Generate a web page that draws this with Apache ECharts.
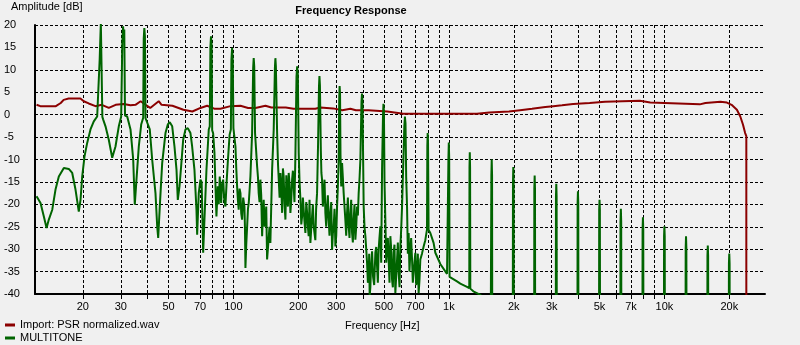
<!DOCTYPE html>
<html>
<head>
<meta charset="utf-8">
<script src="https://cdn.jsdelivr.net/npm/echarts@6/dist/echarts.min.js"></script>
<style>
html,body{margin:0;padding:0;background:#f0f0f0;}
#chart{width:800px;height:345px;}
</style>
</head>
<body>
<div id="chart"></div>
<script>
// Tick values
var xGridTicks = [20,30,40,50,60,70,80,90,100,200,300,400,500,600,700,800,900,1000,2000,3000,4000,5000,6000,7000,8000,9000,10000,20000];
var xLabelTicks = [20,30,50,70,100,200,300,500,700,1000,2000,3000,5000,7000,10000,20000];

// Import: PSR normalized.wav  [Hz, dB]
var psrResponse = [[12.2,2.2],[12.7,1.9],[15.0,1.9],[15.8,2.6],[16.3,3.3],[17.2,3.6],[19.5,3.6],[20.2,3.0],[21.3,2.5],[22.9,1.9],[24.5,2.2],[26.4,1.5],[28.4,2.2],[30.9,2.4],[33.3,2.1],[35.1,2.2],[37.1,3.0],[39.1,2.2],[41.1,1.5],[45.0,3.0],[46.4,2.2],[52.1,2.0],[58.6,1.1],[64.5,0.7],[70.3,1.5],[75.5,2.0],[82,1.3],[87,1.3],[96.9,1.9],[107.8,2.0],[117,1.5],[126.5,1.5],[140.8,2.0],[150,1.6],[175,1.6],[190,1.3],[240,1.3],[253,1.6],[290,1.4],[320,1.0],[349,1.3],[370,1.0],[423,1.0],[518,0.7],[614,0.2],[820,0.2],[1350,0.2],[1360,0.5],[1540,0.5],[1550,0.7],[1900,0.7],[1910,1.0],[2140,1.0],[2150,1.3],[2430,1.3],[2450,1.7],[2800,1.7],[2810,1.9],[3050,1.9],[3100,2.1],[3350,2.1],[3400,2.4],[3770,2.4],[3800,2.6],[4500,2.6],[4550,2.9],[5300,2.9],[5350,3.1],[7700,3.1],[7800,2.7],[8600,2.7],[8700,2.3],[14600,2.3],[14700,2.6],[15500,2.6],[15600,2.9],[18200,2.9],[18400,2.7],[19500,2.7],[20500,2.2],[21700,1.1],[22500,-0.4],[23150,-2.2],[23700,-4.1],[24000,-4.8],[24000,-41]];

// MULTITONE  [Hz, dB]
var multitoneLow = [[12.2,-18.2],[12.73,-19.7],[13.19,-22.7],[13.58,-25.3],[13.91,-23.4],[14.43,-21.2],[14.94,-16.7],[15.48,-13.8],[16.33,-11.9],[17.22,-12.1],[17.86,-13.0],[18.5,-16.7],[19.16,-21.6],[19.52,-19.0],[19.87,-13.8],[20.37,-9.3],[20.96,-6.3],[21.71,-3.3],[22.49,-1.5],[23.32,-0.4],[23.8,0],[23.95,12.3],[24.15,12.3],[24.25,20.5],[24.5,20.5],[24.65,-0.5],[24.87,-1.1],[25.49,-2.6],[26.4,-5.6],[27.38,-9.6],[28.36,-7.1],[29.38,-2.6],[30.14,-0.4],[30.5,16],[30.75,19.7],[30.95,17.5],[31.15,19],[31.4,-0.2],[32.14,-0.4],[33.3,-3.3],[34.27,-10],[34.85,-20.1],[35.49,-14.5],[36.38,-7.1],[37.32,-2.2],[38.13,-0.7],[38.35,17],[38.6,19.3],[38.85,17.5],[39.1,-0.8],[39.79,-1.1],[40.91,-3.3],[41.97,-10],[43.48,-17.5],[44.28,-24.9],[44.76,-27.5],[45.53,-20.5],[46.71,-10.8],[48.39,-4.1],[49.59,-2.2],[50.66,-1.7],[51.99,-2.6],[53.27,-7.1],[54.43,-12.3],[55.19,-19.0],[56.2,-16.0],[57.2,-11.5],[58.45,-5.6],[59.9,-3.3],[61.4,-3.0],[63.18,-4.1],[64.33,-7.1],[65.94,-12.3],[67.37,-21.2],[67.87,-26.8],[69.05,-17.5],[70.3,-14.5],[71.2,-15],[72.37,-30.8],[73.38,-23.4],[74.97,-12.3],[76.84,-3.3],[77.66,-2.6],[78.2,15],[78.7,17.5],[79.2,15.5],[79.7,-3.5],[80.5,-4.1],[81.65,-8.5],[83.4,-22.7],[84.6,-16.0],[85.5,-20],[86.4,-13.8],[87.7,-19.7],[88.6,-15.5],[89.6,-14.5],[90.7,-19],[91.8,-20.5],[93.0,-15],[94.1,-10.8],[96.0,-4.5],[97.3,-3.3],[97.9,12.3],[98.6,14.9],[99.3,12],[100,-3]];

var multitoneMid = [[102.2,-7.1],[103.1,-12],[104.0,-16.0],[104.9,-19],[105.8,-21.2],[106.8,-16.5],[107.8,-17.5],[108.7,-22],[109.7,-23.4],[111.0,-18.5],[112.5,-20.5],[113.1,-25],[113.7,-34.2],[114.7,-29],[115.8,-24.9],[116.8,-21],[117.8,-19.7],[118.8,-17],[119.9,-13.8],[122.1,-4.1],[123.5,10.5],[124.2,12.6],[124.9,10.8],[126.0,-4.1],[128.8,-11.5],[130.0,-14],[131.0,-17.5],[132.2,-19.5],[133.4,-14.5],[134.6,-18],[135.9,-27.1],[137.0,-22],[138.2,-19.0],[139.5,-25],[140.8,-23.4],[142.0,-20.5],[143.3,-32.3],[144.5,-30],[145.8,-27.5],[147.0,-25],[148.4,-28.6],[151.2,-12.3],[153.8,-3.3],[155.8,10.5],[156.6,12.6],[157.4,10.8],[159.5,-4.1],[161.0,-11],[162.3,-14.5],[163.8,-18.5],[165.2,-13.0],[166.7,-16],[168.3,-21.9],[169.7,-12],[171.1,-13.8],[172.7,-20],[174.3,-23.4],[176.0,-13.5],[177.5,-17.5],[179.0,-20.5],[180.5,-13.0],[182.2,-15.5],[183.8,-21.9],[185.5,-19],[187.2,-14.5],[188.8,-12.5],[190.4,-16.0],[192.0,-19.5],[193.9,-9.3],[196.2,8.5],[197.6,10.8],[199.0,9.0],[200.9,-8.5],[202.7,-15],[204.6,-19.0],[206.5,-24.5],[208.3,-22.7],[210.0,-18.5],[211.9,-21.2],[213.8,-24],[215.8,-26.4],[217.8,-19.5],[219.8,-21.9],[221.6,-25],[223.5,-27.1],[225.5,-19],[227.6,-28.6],[229.6,-25.5],[231.7,-22.7],[233.7,-20],[235.7,-24.9],[240.0,-28],[242.0,-21],[244.4,-17.5],[247.1,-6.3],[249.5,6.3],[250.7,8.6],[252.0,6.5],[254.5,-8],[256.0,-13],[257.8,-14.5],[260.0,-20.5],[262.3,-17.5],[264.7,-14.5],[267.1,-21.9],[269.5,-25],[272.0,-20.5],[274.3,-18],[276.7,-23.4],[279.2,-27],[281.8,-21.9],[284.4,-19.5],[287.0,-30.1],[289.4,-26.5],[291.9,-24.9],[294.6,-21],[297.3,-29.4],[300.0,-27],[302.7,-20.5],[305.3,-16],[307.9,-10],[309.8,4.0],[311.0,6.4],[312.5,4.5],[314,-9],[316.5,-16],[319.3,-10.8],[322.0,-14],[324.8,-17.5],[327.7,-20.5],[330.7,-23.4],[333.7,-27],[336.8,-21.9],[339.7,-18.5],[342.6,-24.9],[345.7,-27.5],[348.9,-21.9],[352.0,-19],[355.3,-26.4],[358.3,-28.5],[361.4,-23.4],[364.7,-20],[368.1,-27.9],[371.4,-25],[374.8,-20.5],[378.0,-22.5],[381.3,-17.5],[385.0,-14],[388.3,-10],[393,3.0],[395,4.7],[397,3.2],[402.2,-20.5],[405.8,-25],[409.6,-27.1],[413.3,-30],[417.1,-33.1],[420.7,-37.5],[424.3,-36.8],[426.5,-31],[428.8,-40.5],[432.0,-38.5],[435.3,-33.8],[440.0,-30.5],[444.6,-36.1],[450.0,-38],[455.7,-30.8],[460.0,-29.5],[464.0,-33.8],[468.0,-37.5],[472.0,-30.1],[476.0,-27.5],[480.7,-24.9],[485.0,-33],[489.5,-12.3],[494.5,0],[497,2.4],[499.5,0.5],[502.5,-15],[507.0,-23.4],[511.7,-33],[516.4,-29.4],[520.8,-27.5],[525.2,-32.3],[530.0,-37.5],[534.9,-27.1],[539.8,-30],[544.7,-36.8],[549.4,-38.5],[554.1,-30.8],[559.0,-29],[564.2,-39.8],[569.4,-36],[574.6,-32.3],[579.5,-28.5],[584.5,-35.3],[590.0,-38.5],[595.2,-29.4],[600.6,-25.5],[606.1,-20.5],[621,-2.6],[625,-0.4],[629,-2],[633.5,-14],[639.3,-20.5],[644.8,-31],[650.3,-26.4],[656.0,-35],[662.2,-30.8],[668.0,-27.5],[674.4,-32.3],[680.0,-37.5],[686.0,-35.3],[692.0,-33],[698.6,-30.8],[705.0,-38],[711.3,-36.8],[717.5,-31],[723.6,-39.8],[730.0,-37],[736.8,-32.3],[750.0,-31],[763.3,-29.4],[777.0,-28],[791.3,-25.6]];

var multitoneHigh = [[794,-7],[797,-4.1],[800,-6],[805,-25.7],[820,-26.4],[849,-28.6],[865,-30.8],[912,-33.3],[980,-35.5],[992,-35.8],[995,-9.7],[999,-6.2],[1003,-9.7],[1007,-36.2],[1090,-37.2],[1130,-37.7],[1213,-38.4],[1243,-38.7],[1246,-11.9],[1250,-8.4],[1254,-11.9],[1257,-38.8],[1298,-39.4],[1400,-40.2],[1450,-41],[1560,-60],
[1570,-60],[1574,-13.6],[1580,-10.0],[1586,-13.6],[1590,-60],
[1978,-60],[1983,-15.1],[1990,-11.7],[1997,-15.1],[2002,-60],
[2485,-60],[2491,-16.6],[2500,-13.6],[2509,-16.6],[2515,-60],
[3131,-60],[3139,-18.2],[3150,-15.4],[3161,-18.2],[3169,-60],
[3946,-60],[3956,-19.7],[3970,-17.1],[3984,-19.7],[3994,-60],
[4970,-60],[4982,-21.2],[5000,-19.0],[5018,-21.2],[5030,-60],
[6242,-60],[6257,-23.9],[6280,-21.0],[6303,-23.9],[6318,-60],
[7902,-60],[7921,-25.6],[7950,-22.9],[7979,-25.6],[7998,-60],
[9940,-60],[9964,-27.1],[10000,-24.9],[10036,-27.1],[10060,-60],
[12524,-60],[12554,-29.7],[12600,-27.1],[12646,-29.7],[12676,-60],
[15805,-60],[15843,-31.5],[15900,-29.2],[15957,-31.5],[15995,-60],
[19880,-60],[19928,-33.2],[20000,-31.0],[20072,-33.2],[20120,-60]];

var FONT = '"Liberation Sans", Arial, sans-serif';
var chart = echarts.init(document.getElementById('chart'), null, {renderer:'canvas'});
var option = {
  animation: false,
  backgroundColor: '#f0f0f0',
  textStyle: {fontFamily: FONT},
  title: [
    {text:'Frequency Response', left: 351, top: 5, textAlign:'center', padding:0,
     textStyle:{fontSize:11, fontWeight:'bold', color:'#000', fontFamily:FONT}},
    {text:'Amplitude [dB]', left: 11, top: 1, padding:0,
     textStyle:{fontSize:11, fontWeight:'normal', color:'#000', fontFamily:FONT}},
    {text:'Frequency [Hz]', left: 345, top: 320, padding:0,
     textStyle:{fontSize:11, fontWeight:'normal', color:'#000', fontFamily:FONT}}
  ],
  legend: {
    orient:'vertical', left:5, top:319, padding:0, itemGap:1,
    itemWidth:10, itemHeight:3, icon:'rect',
    textStyle:{fontSize:11, color:'#000', fontFamily:FONT, lineHeight:12},
    data:['Import: PSR normalized.wav','MULTITONE']
  },
  grid: {left:35, right:35, top:25, bottom:51, containLabel:false},
  xAxis: {
    type:'log', logBase:10, min:12, max:29300,
    axisLine:{show:true, onZero:false, lineStyle:{color:'#000', width:2}},
    axisTick:{show:true, length:5, customValues:xGridTicks, lineStyle:{color:'#000', width:1}},
    splitLine:{show:true, lineStyle:{color:'#000', width:1, type:[3,2]}},
    axisLabel:{show:true, customValues:xLabelTicks, margin:7, fontSize:11, color:'#000', fontFamily:FONT,
      formatter:function(v){ var r=Math.round(v); return r>=1000 ? (r/1000)+'k' : String(r); }}
  },
  yAxis: {
    type:'value', min:-40, max:20, interval:5,
    axisLine:{show:true, onZero:false, lineStyle:{color:'#000', width:2}},
    axisTick:{show:false},
    splitLine:{show:true, lineStyle:{color:'#000', width:1, type:[3,2]}},
    axisLabel:{align:'left', margin:31, fontSize:11, color:'#000', fontFamily:FONT}
  },
  series: [
    {name:'Import: PSR normalized.wav', type:'line', data:psrResponse, showSymbol:false, symbol:'none',
     lineStyle:{color:'#8b0000', width:2}, itemStyle:{color:'#8b0000'}, clip:true},
    {name:'MULTITONE', type:'line', data:multitoneLow.concat(multitoneMid, multitoneHigh), showSymbol:false, symbol:'none',
     lineStyle:{color:'#006400', width:2}, itemStyle:{color:'#006400'}, clip:true}
  ]
};
chart.setOption(option);
</script>
</body>
</html>
